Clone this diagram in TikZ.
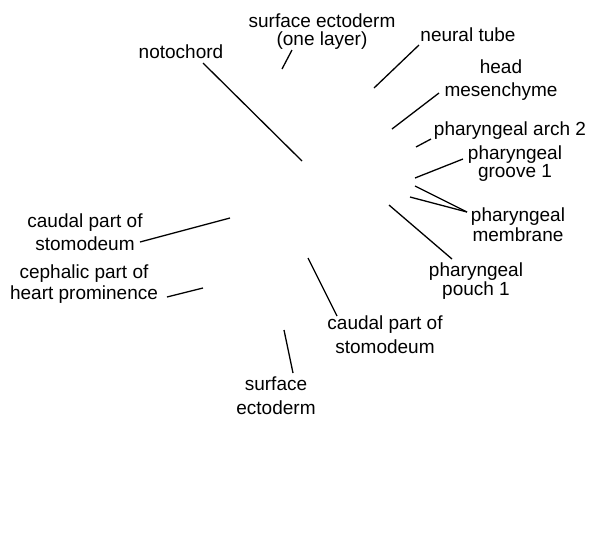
\documentclass[tikz,border=0pt]{standalone}
\usepackage{fontspec}
\setmainfont{Liberation Sans}
\begin{document}
\begin{tikzpicture}[x=1pt,y=-1pt,
  lbl/.style={inner sep=0pt,align=center,anchor=base,font=\fontsize{19}{18}\selectfont},
  ln/.style={line width=1.3pt,black}]
\useasboundingbox (0,0) rectangle (600,550);
% labels (anchor = baseline of the last line)
\node[lbl] (noto) at (181,58) {notochord};
\node[lbl] (se1) at (322,45) {surface ectoderm\\(one layer)};
\node[lbl] (nt) at (468,41) {neural tube};
\node[lbl] (hm) at (501,96) {head\\[5pt]mesenchyme};
\node[lbl] (pa2) at (510,135) {pharyngeal arch 2};
\node[lbl] (pg1) at (515,177) {pharyngeal\\groove 1};
\node[lbl] (pm) at (518,241) {pharyngeal\\[2pt]membrane};
\node[lbl] (pp1) at (476,295) {pharyngeal\\[1pt]pouch 1};
\node[lbl] (cs1) at (85,250) {caudal part of\\[5pt]stomodeum};
\node[lbl] (ch) at (84,299) {cephalic part of\\[3pt]heart prominence};
\node[lbl] (cs2) at (385,353) {caudal part of\\[6pt]stomodeum};
\node[lbl] (se2) at (276,414) {surface\\[6pt]ectoderm};
% connector ends
\coordinate (a1) at (203,63);  \coordinate (b1) at (302,161);
\coordinate (a2) at (292,50);  \coordinate (b2) at (282,69);
\coordinate (a3) at (419,45);  \coordinate (b3) at (374,88);
\coordinate (a4) at (439,93);  \coordinate (b4) at (392,129);
\coordinate (a5) at (431,139); \coordinate (b5) at (416,147);
\coordinate (a6) at (463,159); \coordinate (b6) at (415,178);
\coordinate (a7) at (467,212); \coordinate (b7) at (415,186); \coordinate (c7) at (410,197);
\coordinate (a8) at (452,259); \coordinate (b8) at (389,205);
\coordinate (a9) at (140,242); \coordinate (b9) at (230,218);
\coordinate (a10) at (167,297); \coordinate (b10) at (203,288);
\coordinate (a11) at (337,316); \coordinate (b11) at (308,258);
\coordinate (a12) at (293,373); \coordinate (b12) at (284,330);
\draw[ln] (a1) -- (b1);
\draw[ln] (a2) -- (b2);
\draw[ln] (a3) -- (b3);
\draw[ln] (a4) -- (b4);
\draw[ln] (a5) -- (b5);
\draw[ln] (a6) -- (b6);
\draw[ln] (a7) -- (b7);
\draw[ln] (a7) -- (c7);
\draw[ln] (a8) -- (b8);
\draw[ln] (a9) -- (b9);
\draw[ln] (a10) -- (b10);
\draw[ln] (a11) -- (b11);
\draw[ln] (a12) -- (b12);
\end{tikzpicture}
\end{document}
